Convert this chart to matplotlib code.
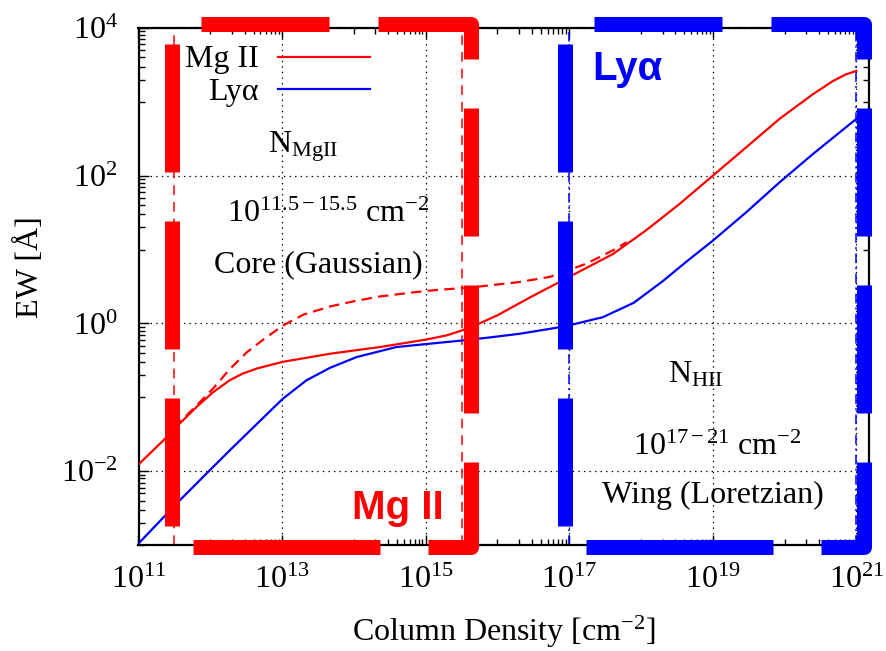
import numpy as np
import matplotlib
matplotlib.use("Agg")
import matplotlib.pyplot as plt
from matplotlib.patches import Polygon

plt.rcParams["font.family"] = ["Liberation Serif", "DejaVu Serif"]
plt.rcParams["mathtext.fontset"] = "custom"
plt.rcParams["mathtext.rm"] = "Liberation Serif"
plt.rcParams["mathtext.it"] = "Liberation Serif:italic"
plt.rcParams["lines.scale_dashes"] = False

# values (log10 N [cm^-2], log10 EW [A])
mg2_logN = [11.0, 11.35, 11.58, 11.81, 12.04, 12.27, 12.45, 12.65, 13.01, 13.67, 14.36,
            15.0, 15.3, 15.52, 15.75, 16.0, 16.45, 17.0, 17.61, 18.07, 18.54, 19.0,
            19.46, 19.93, 20.39, 20.67, 20.85, 21.0]
mg2_logEW = [-1.91, -1.58, -1.35, -1.13, -0.93, -0.77, -0.68, -0.61, -0.52, -0.41, -0.32,
             -0.22, -0.16, -0.09, 0.0, 0.11, 0.35, 0.63, 0.94, 1.26, 1.62, 2.0,
             2.38, 2.77, 3.10, 3.28, 3.37, 3.42]

lya_logN = [11.0, 11.58, 11.95, 12.27, 12.65, 13.01, 13.34, 13.67, 14.04, 14.59, 15.0,
            15.52, 15.89, 16.31, 16.94, 17.47, 17.9, 18.3, 18.65, 19.0, 19.46, 19.93,
            20.39, 21.0]
lya_logEW = [-2.98, -2.39, -2.03, -1.72, -1.36, -1.02, -0.77, -0.60, -0.455, -0.32, -0.28,
             -0.23, -0.19, -0.14, -0.04, 0.085, 0.28, 0.57, 0.85, 1.12, 1.50, 1.91,
             2.29, 2.77]

core_logN = [11.5, 11.58, 11.8, 12.04, 12.27, 12.51, 12.75, 13.01, 13.3, 13.67, 14.0,
             14.36, 15.0, 15.52, 15.75, 16.3, 16.73, 17.24, 17.61, 17.8]
core_logEW = [-1.42, -1.33, -1.12, -0.88, -0.62, -0.39, -0.21, -0.03, 0.12, 0.23, 0.30,
              0.365, 0.44, 0.48, 0.50, 0.56, 0.63, 0.81, 0.99, 1.10]

mg2_range = [10**11.5, 10**15.5]
hi_range = [1e17, 1e21]

xmajor = [1e11, 1e13, 1e15, 1e17, 1e19, 1e21]
ymajor = [1e-2, 1e0, 1e2, 1e4]

PX = 0.72  # points per pixel at dpi 100

fig = plt.figure(figsize=(8.87, 6.51), dpi=100)
ax = fig.add_axes([138.5 / 887, 106 / 651, 730.5 / 887, 517 / 651])
ax.set_xscale("log")
ax.set_yscale("log")
ax.set_xlim(1e11, 1.5e21)
ax.set_ylim(1e-3, 1e4)

# ticks and grid
ax.set_xticks(xmajor)
ax.set_yticks(ymajor)
ax.set_xticks([k * 10.0**e for e in range(12, 22, 2) for k in range(1, 10)], minor=True)
ax.set_yticks([k * 10.0**e for e in range(-3, 4, 2) for k in range(1, 10)], minor=True)
ax.xaxis.set_minor_formatter(plt.NullFormatter())
ax.yaxis.set_minor_formatter(plt.NullFormatter())
ax.grid(True, which="major", color="black", linestyle=(0, (1, 3)), linewidth=0.9)
ax.set_axisbelow(True)

ax.tick_params(which="both", direction="in", top=True, right=True, labelsize=23, width=1)
ax.tick_params(axis="x", which="major", length=7, pad=15)
ax.tick_params(axis="y", which="major", length=7, pad=15)
ax.tick_params(which="minor", length=4.5)
for s in ax.spines.values():
    s.set_linewidth(1.6)

# range boundaries
for xv in mg2_range:
    ax.axvline(xv, color="red", linewidth=1.1, linestyle=(0, (7, 5)), zorder=2)
for xv in hi_range:
    ax.axvline(xv, color="blue", linewidth=1.1, linestyle=(0, (7, 3, 1.5, 3)), zorder=2)

# curves
ax.plot(10 ** np.array(mg2_logN), 10 ** np.array(mg2_logEW), color="red", linewidth=1.6, zorder=3)
ax.plot(10 ** np.array(lya_logN), 10 ** np.array(lya_logEW), color="blue", linewidth=1.6, zorder=3)
ax.plot(10 ** np.array(core_logN), 10 ** np.array(core_logEW), color="red", linewidth=1.6,
        linestyle=(0, (7.5, 4.5)), zorder=3)

# thick dashed boxes (axes fraction)
dash_px = [187, 48] + [128, 49] * 7 + [128, 42]
box_style = (1623 * PX, [d * PX for d in dash_px])
for (x0, x1), col in [((0.0459, 0.455), "red"), ((0.584, 0.993), "blue")]:
    y0, y1 = -0.004, 1.008
    box = Polygon([(x0, y0), (x1, y0), (x1, y1), (x0, y1)], closed=True, fill=False,
                  edgecolor=col, linewidth=15 * PX, linestyle=box_style,
                  joinstyle="round", capstyle="butt", transform=ax.transAxes,
                  clip_on=False, zorder=5)
    ax.add_patch(box)

# key
ax.text(0.164, 0.925, "Mg II", transform=ax.transAxes, ha="right", va="baseline", fontsize=23, zorder=6)
ax.text(0.164, 0.861, "Lyα", transform=ax.transAxes, ha="right", va="baseline", fontsize=23, zorder=6)
ax.plot([0.191, 0.317], [0.944, 0.944], color="red", linewidth=1.6, transform=ax.transAxes)
ax.plot([0.191, 0.317], [0.882, 0.882], color="blue", linewidth=1.6, transform=ax.transAxes)

# annotations
ax.text(0.225, 0.760, r"$\mathrm{N}_{\mathrm{MgII}}$", transform=ax.transAxes, ha="center", va="baseline", fontsize=23)
ax.text(0.26, 0.625, r"$10^{11.5 - 15.5}\ \mathrm{cm}^{-2}$", transform=ax.transAxes, ha="center", va="baseline", fontsize=23)
ax.text(0.246, 0.528, "Core (Gaussian)", transform=ax.transAxes, ha="center", va="baseline", fontsize=23)
ax.text(0.762, 0.315, r"$\mathrm{N}_{\mathrm{HII}}$", transform=ax.transAxes, ha="center", va="baseline", fontsize=23)
ax.text(0.793, 0.174, r"$10^{17 - 21}\ \mathrm{cm}^{-2}$", transform=ax.transAxes, ha="center", va="baseline", fontsize=23)
ax.text(0.786, 0.081, "Wing (Loretzian)", transform=ax.transAxes, ha="center", va="baseline", fontsize=23)

ax.text(0.355, 0.050, "Mg II", transform=ax.transAxes, ha="center", va="baseline", fontsize=29,
        color="red", fontweight="bold", family="Liberation Sans", zorder=6)
ax.text(0.669, 0.899, "Lyα", transform=ax.transAxes, ha="center", va="baseline", fontsize=29,
        color="blue", fontweight="bold", family="Liberation Sans", zorder=6)

ax.set_xlabel(r"Column Density [cm$^{-2}$]", fontsize=23)
ax.set_ylabel("EW [Å]", fontsize=23)
ax.xaxis.set_label_coords(0.5, -0.133)
ax.yaxis.set_label_coords(-0.128, 0.538)

fig.savefig("out.png", dpi=100)
